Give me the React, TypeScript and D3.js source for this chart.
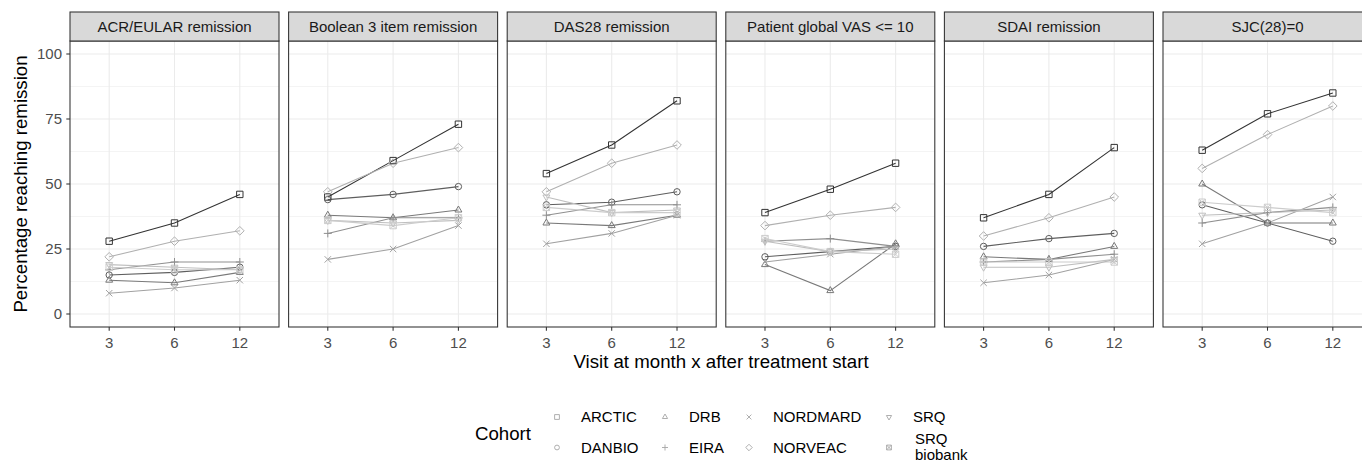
import React, { useEffect, useRef } from "react";
import * as d3 from "d3";

// ----- data (percent reaching remission)
const visits = ["3", "6", "12"];
const cohorts = ["ARCTIC", "DANBIO", "DRB", "EIRA", "NORDMARD", "NORVEAC", "SRQ", "SRQ biobank"];
const measures = [
  "ACR/EULAR remission",
  "Boolean 3 item remission",
  "DAS28 remission",
  "Patient global VAS <= 10",
  "SDAI remission",
  "SJC(28)=0"
];
const yTicks = [0, 25, 50, 75, 100];

// rows follow the cohorts order
const acrEular = [[28, 35, 46], [15, 16, 18], [13, 12, 16], [17, 20, 20], [8, 10, 13], [22, 28, 32], [19, 18, 17], [18, 17, 17]];
const boolean3 = [[45, 59, 73], [44, 46, 49], [38, 37, 40], [31, 37, 37], [21, 25, 34], [47, 58, 64], [36, 35, 36], [36, 34, 37]];
const das28 = [[54, 65, 82], [42, 43, 47], [35, 34, 38], [38, 42, 42], [27, 31, 38], [47, 58, 65], [45, 39, 40], [41, 39, 39]];
const patientVas = [[39, 48, 58], [22, 24, 26], [19, 9, 27], [28, 29, 26], [20, 23, 26], [34, 38, 41], [28, 24, 25], [29, 24, 23]];
const sdai = [[37, 46, 64], [26, 29, 31], [22, 21, 26], [20, 21, 23], [12, 15, 21], [30, 37, 45], [18, 18, 21], [20, 20, 20]];
const sjc = [[63, 77, 85], [42, 35, 28], [50, 35, 35], [35, 39, 41], [27, 35, 45], [56, 69, 80], [38, 39, 40], [43, 41, 39]];

const measureValues = [acrEular, boolean3, das28, patientVas, sdai, sjc];

// grey palette like scale_colour_grey
const greys = ["#333333", "#5e5e5e", "#797979", "#8f8f8f", "#a1a1a1", "#b0b0b0", "#bfbfbf", "#cccccc"];

// open shapes 0..7 as in R pch
const shapePath = (i, r) => {
  const sq = `M${-r},${-r}H${r}V${r}H${-r}Z`;
  const t = r * 1.25;
  const p = r * 1.25;
  const d = r * 1.35;
  switch (i) {
    case 0:
      return sq;
    case 1:
      return `M${r},0A${r},${r} 0 1 1 ${-r},0A${r},${r} 0 1 1 ${r},0Z`;
    case 2:
      return `M0,${-t}L${t * 0.866},${t * 0.5}L${-t * 0.866},${t * 0.5}Z`;
    case 3:
      return `M${-p},0H${p}M0,${-p}V${p}`;
    case 4:
      return `M${-r},${-r}L${r},${r}M${-r},${r}L${r},${-r}`;
    case 5:
      return `M0,${-d}L${d},0L0,${d}L${-d},0Z`;
    case 6:
      return `M0,${t}L${t * 0.866},${-t * 0.5}L${-t * 0.866},${-t * 0.5}Z`;
    default:
      return sq + `M${-r},${-r}L${r},${r}M${-r},${r}L${r},${-r}`;
  }
};

const App = () => {
  const svgRef = useRef();

  useEffect(() => {
    const width = 1362;
    const height = 462;
    const panelLeft = 70;
    const panelW = 209;
    const gap = 9.6;
    const stripTop = 12;
    const panelTop = 41;
    const panelBottom = 327;
    const font = "'Liberation Sans', Arial, sans-serif";

    const svg = d3.select(svgRef.current).attr("width", width).attr("height", height);
    svg.selectAll("*").remove();

    const y = d3.scaleLinear().domain([-5, 105]).range([panelBottom, panelTop]);
    const x = d3.scalePoint().domain(visits).range([0, panelW]).padding(0.6);
    const minor = d3.range(12.5, 100, 25);

    measures.forEach((m, k) => {
      const g = svg.append("g").attr("transform", `translate(${panelLeft + k * (panelW + gap)},0)`);

      g.append("rect")
        .attr("x", 0).attr("y", panelTop)
        .attr("width", panelW).attr("height", panelBottom - panelTop)
        .attr("fill", "#fff");

      // grid
      g.selectAll(".minor").data(minor).join("line")
        .attr("x1", 0).attr("x2", panelW)
        .attr("y1", d => y(d)).attr("y2", d => y(d))
        .attr("stroke", "#ebebeb").attr("stroke-width", 0.55);
      g.selectAll(".hmajor").data(yTicks).join("line")
        .attr("x1", 0).attr("x2", panelW)
        .attr("y1", d => y(d)).attr("y2", d => y(d))
        .attr("stroke", "#ebebeb").attr("stroke-width", 1.07);
      g.selectAll(".vmajor").data(visits).join("line")
        .attr("x1", d => x(d)).attr("x2", d => x(d))
        .attr("y1", panelTop).attr("y2", panelBottom)
        .attr("stroke", "#ebebeb").attr("stroke-width", 1.07);

      // lines then points
      const rows = measureValues[k].map((vals, i) => ({ i, pts: vals.map((v, j) => [visits[j], v]) }));
      const line = d3.line().x(d => x(d[0])).y(d => y(d[1]));
      g.selectAll(".series").data(rows).join("path")
        .attr("d", d => line(d.pts))
        .attr("fill", "none")
        .attr("stroke", d => greys[d.i])
        .attr("stroke-width", 1.07);
      rows.forEach(row => {
        g.selectAll(null).data(row.pts).join("path")
          .attr("transform", d => `translate(${x(d[0])},${y(d[1])})`)
          .attr("d", shapePath(row.i, 3.2))
          .attr("fill", "none")
          .attr("stroke", greys[row.i])
          .attr("stroke-width", 1);
      });

      // border
      g.append("rect")
        .attr("x", 0).attr("y", panelTop)
        .attr("width", panelW).attr("height", panelBottom - panelTop)
        .attr("fill", "none").attr("stroke", "#333").attr("stroke-width", 1.07);

      // strip
      g.append("rect")
        .attr("x", 0).attr("y", stripTop)
        .attr("width", panelW).attr("height", panelTop - stripTop)
        .attr("fill", "#d9d9d9").attr("stroke", "#333").attr("stroke-width", 1.07);
      g.append("text")
        .attr("x", panelW / 2).attr("y", (stripTop + panelTop) / 2)
        .attr("dy", "0.35em").attr("text-anchor", "middle")
        .attr("font-family", font).attr("font-size", 15).attr("fill", "#1a1a1a")
        .text(m);

      // x axis
      g.selectAll(".xtick").data(visits).join("line")
        .attr("x1", d => x(d)).attr("x2", d => x(d))
        .attr("y1", panelBottom).attr("y2", panelBottom + 3.7)
        .attr("stroke", "#333").attr("stroke-width", 1.07);
      g.selectAll(".xlab").data(visits).join("text")
        .attr("x", d => x(d)).attr("y", 348)
        .attr("text-anchor", "middle")
        .attr("font-family", font).attr("font-size", 15).attr("fill", "#4d4d4d")
        .text(d => d);
    });

    // y axis on first panel
    const ya = svg.append("g");
    ya.selectAll("line").data(yTicks).join("line")
      .attr("x1", panelLeft - 3.7).attr("x2", panelLeft)
      .attr("y1", d => y(d)).attr("y2", d => y(d))
      .attr("stroke", "#333").attr("stroke-width", 1.07);
    ya.selectAll("text").data(yTicks).join("text")
      .attr("x", panelLeft - 8).attr("y", d => y(d)).attr("dy", "0.35em")
      .attr("text-anchor", "end")
      .attr("font-family", font).attr("font-size", 15).attr("fill", "#4d4d4d")
      .text(d => d);

    // axis titles
    const totalRight = panelLeft + 6 * panelW + 5 * gap;
    svg.append("text")
      .attr("x", (panelLeft + totalRight) / 2).attr("y", 368)
      .attr("text-anchor", "middle")
      .attr("font-family", font).attr("font-size", 18.67).attr("fill", "#000")
      .text("Visit at month x after treatment start");
    svg.append("text")
      .attr("transform", `translate(27,${(panelTop + panelBottom) / 2}) rotate(-90)`)
      .attr("text-anchor", "middle")
      .attr("font-family", font).attr("font-size", 18.67).attr("fill", "#000")
      .text("Percentage reaching remission");

    // legend
    const lg = svg.append("g");
    lg.append("text")
      .attr("x", 475).attr("y", 433).attr("dy", "0.35em")
      .attr("font-family", font).attr("font-size", 18.67).attr("fill", "#000")
      .text("Cohort");
    const keyX = [557, 665, 749, 889];
    const keyY = [417, 447.5];
    cohorts.forEach((c, i) => {
      const col = Math.floor(i / 2);
      const row = i % 2;
      lg.append("path")
        .attr("transform", `translate(${keyX[col]},${keyY[row]})`)
        .attr("d", shapePath(i, 2.4))
        .attr("fill", "none").attr("stroke", "#a6a6a6").attr("stroke-width", 0.9);
      const words = c === "SRQ biobank" ? ["SRQ", "biobank"] : [c];
      const t = lg.append("text")
        .attr("font-family", font).attr("font-size", 15).attr("fill", "#000");
      if (words.length === 1) {
        t.attr("x", keyX[col] + 24).attr("y", keyY[row]).attr("dy", "0.35em").text(c);
      } else {
        words.forEach((w, j) => {
          t.append("tspan")
            .attr("x", keyX[col] + 26).attr("y", keyY[row] - 9 + j * 16.5)
            .attr("dy", "0.35em").text(w);
        });
      }
    });
  }, []);

  return (
    <svg
      ref={svgRef}
      style={{ position: "absolute", left: 0, top: 0, background: "#fff", overflow: "hidden" }}
    />
  );
};

export default App;
